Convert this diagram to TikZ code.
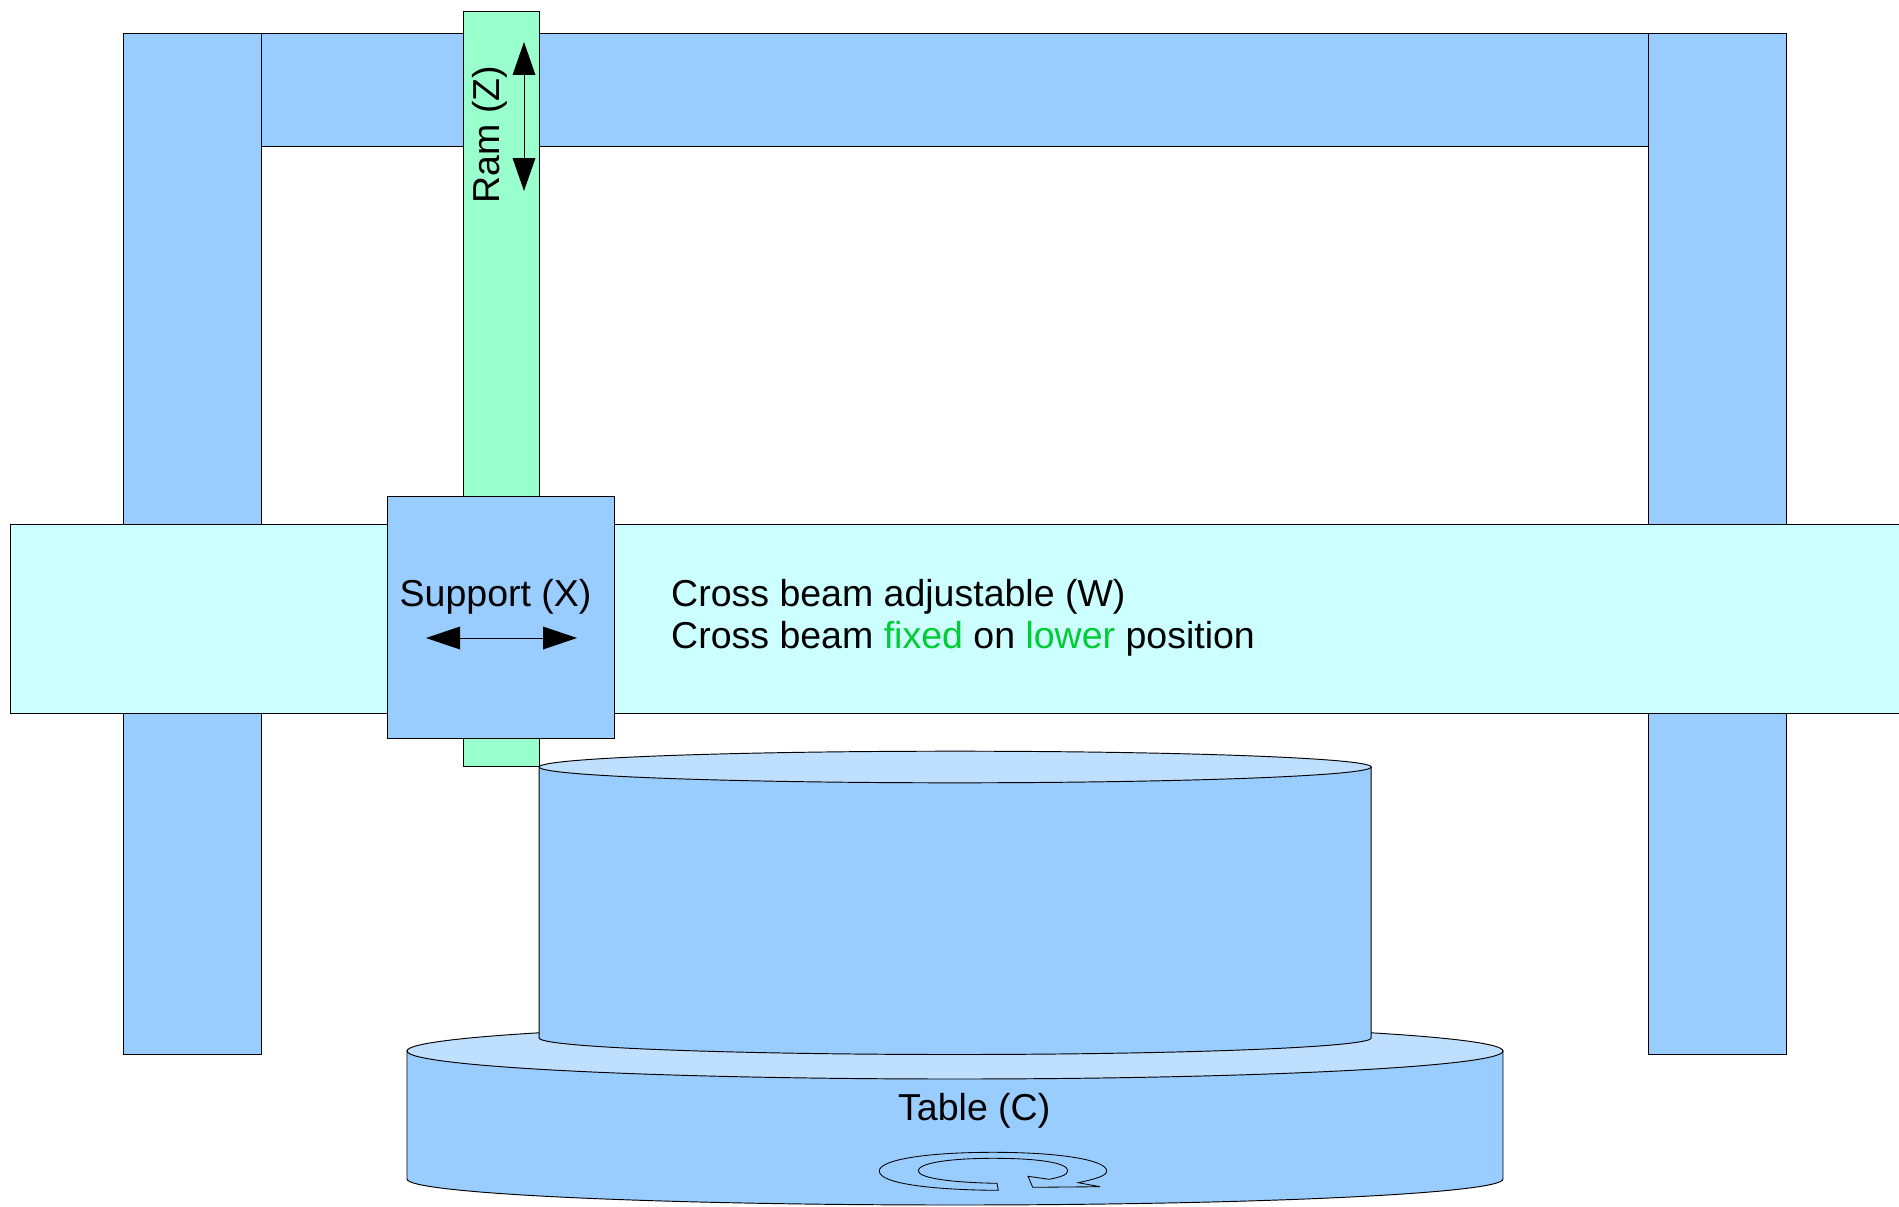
\documentclass[tikz,border=0pt]{standalone}
\usepackage{fontspec}
\setmainfont{Liberation Sans}
\definecolor{partblue}{HTML}{99CCFF}
\definecolor{beamcyan}{HTML}{CCFFFF}
\definecolor{ramgreen}{HTML}{99FFCC}
\definecolor{lightblue}{HTML}{BFDFFF}
\definecolor{wordgreen}{HTML}{00CC33}
\tikzset{
  part/.style={draw=black,line width=0.95pt,fill=partblue,line join=miter},
  beam/.style={part,fill=beamcyan},
  ram/.style={part,fill=ramgreen},
  lid/.style={part,fill=lightblue},
  label/.style={inner sep=0pt,font=\fontsize{37.5}{45}\selectfont,text=black},
  shaft/.style={draw=black,line width=0.95pt},
  head/.style={fill=black,draw=none}
}
\begin{document}
\begin{tikzpicture}[x=1pt,y=-1pt]
\useasboundingbox (0,0) rectangle (1899,1207);
\fill[white] (0,0) rectangle (1899,1207);
% columns and top beam
\draw[part] (123.2,33) rectangle (261.5,1054.5);
\draw[part] (1648,33) rectangle (1786.5,1054.5);
\draw[part] (261.5,33) rectangle (1648,146.5);
% ram
\draw[ram] (463.3,11) rectangle (539.2,766.5);
% cross beam
\draw[beam] (10,524.5) rectangle (1905,713.5);
% support
\draw[part] (387.7,496.5) rectangle (614.7,738);
% table
\draw[part] (407,1051) -- (407,1179) arc[start angle=180,end angle=0,x radius=548,y radius=26] -- (1503,1051) -- cycle;
\draw[lid] (955,1051) ellipse[x radius=548,y radius=28];
% upper cylinder
\draw[part] (539.2,767) -- (539.2,1038) arc[start angle=180,end angle=0,x radius=416,y radius=16.5] -- (1371.2,767) -- cycle;
\draw[lid] (955.2,767) ellipse[x radius=416,y radius=15.8];
% rotary arrow
\draw[part,line width=0.85pt] (997,1183.3) -- (998.3,1190.3)
  .. controls (935,1190) and (879.3,1184) .. (879.3,1171)
  .. controls (879.3,1160) and (925,1152.3) .. (993,1152.3)
  .. controls (1060,1152.3) and (1106.7,1160) .. (1106.7,1171)
  .. controls (1106.7,1176) and (1095,1179) .. (1078.3,1182.7)
  -- (1100,1186.7) -- (1032.7,1187.3) -- (1028,1176.3) -- (1049.3,1179.3)
  .. controls (1060,1177) and (1067.7,1175) .. (1067.7,1170.7)
  .. controls (1067.7,1163) and (1040,1158.3) .. (993,1158.3)
  .. controls (950,1158.3) and (918.3,1163) .. (918.3,1170.7)
  .. controls (918.3,1178) and (950,1182.5) .. (997,1183.3) -- cycle;
% Ram arrow
\coordinate (ramtop) at (524,75);
\coordinate (rambot) at (524,158);
\draw[shaft] (ramtop) -- (rambot);
\fill[head] (524,42) -- (535.5,75) -- (512.5,75) -- cycle;
\fill[head] (524,191) -- (535.5,158) -- (512.5,158) -- cycle;
% Support arrow
\coordinate (supl) at (460,638);
\coordinate (supr) at (543,638);
\draw[shaft] (supl) -- (supr);
\fill[head] (426,638) -- (460,626.5) -- (460,649.5) -- cycle;
\fill[head] (577,638) -- (543,626.5) -- (543,649.5) -- cycle;
% labels
\node[label,anchor=base west,rotate=90] (ramlabel) at (499,203.5) {Ram (Z)};
\node[label,anchor=base west] (supportlabel) at (399.5,606) {Support (X)};
\node[label,anchor=base west] (beam1) at (671,606) {Cross beam adjustable (W)};
\node[label,anchor=base west] (beam2) at (671,648) {Cross beam \textcolor{wordgreen}{fixed} on \textcolor{wordgreen}{lower} position};
\node[label,anchor=base west] (tablelabel) at (898,1120) {Table (C)};
\end{tikzpicture}
\end{document}
